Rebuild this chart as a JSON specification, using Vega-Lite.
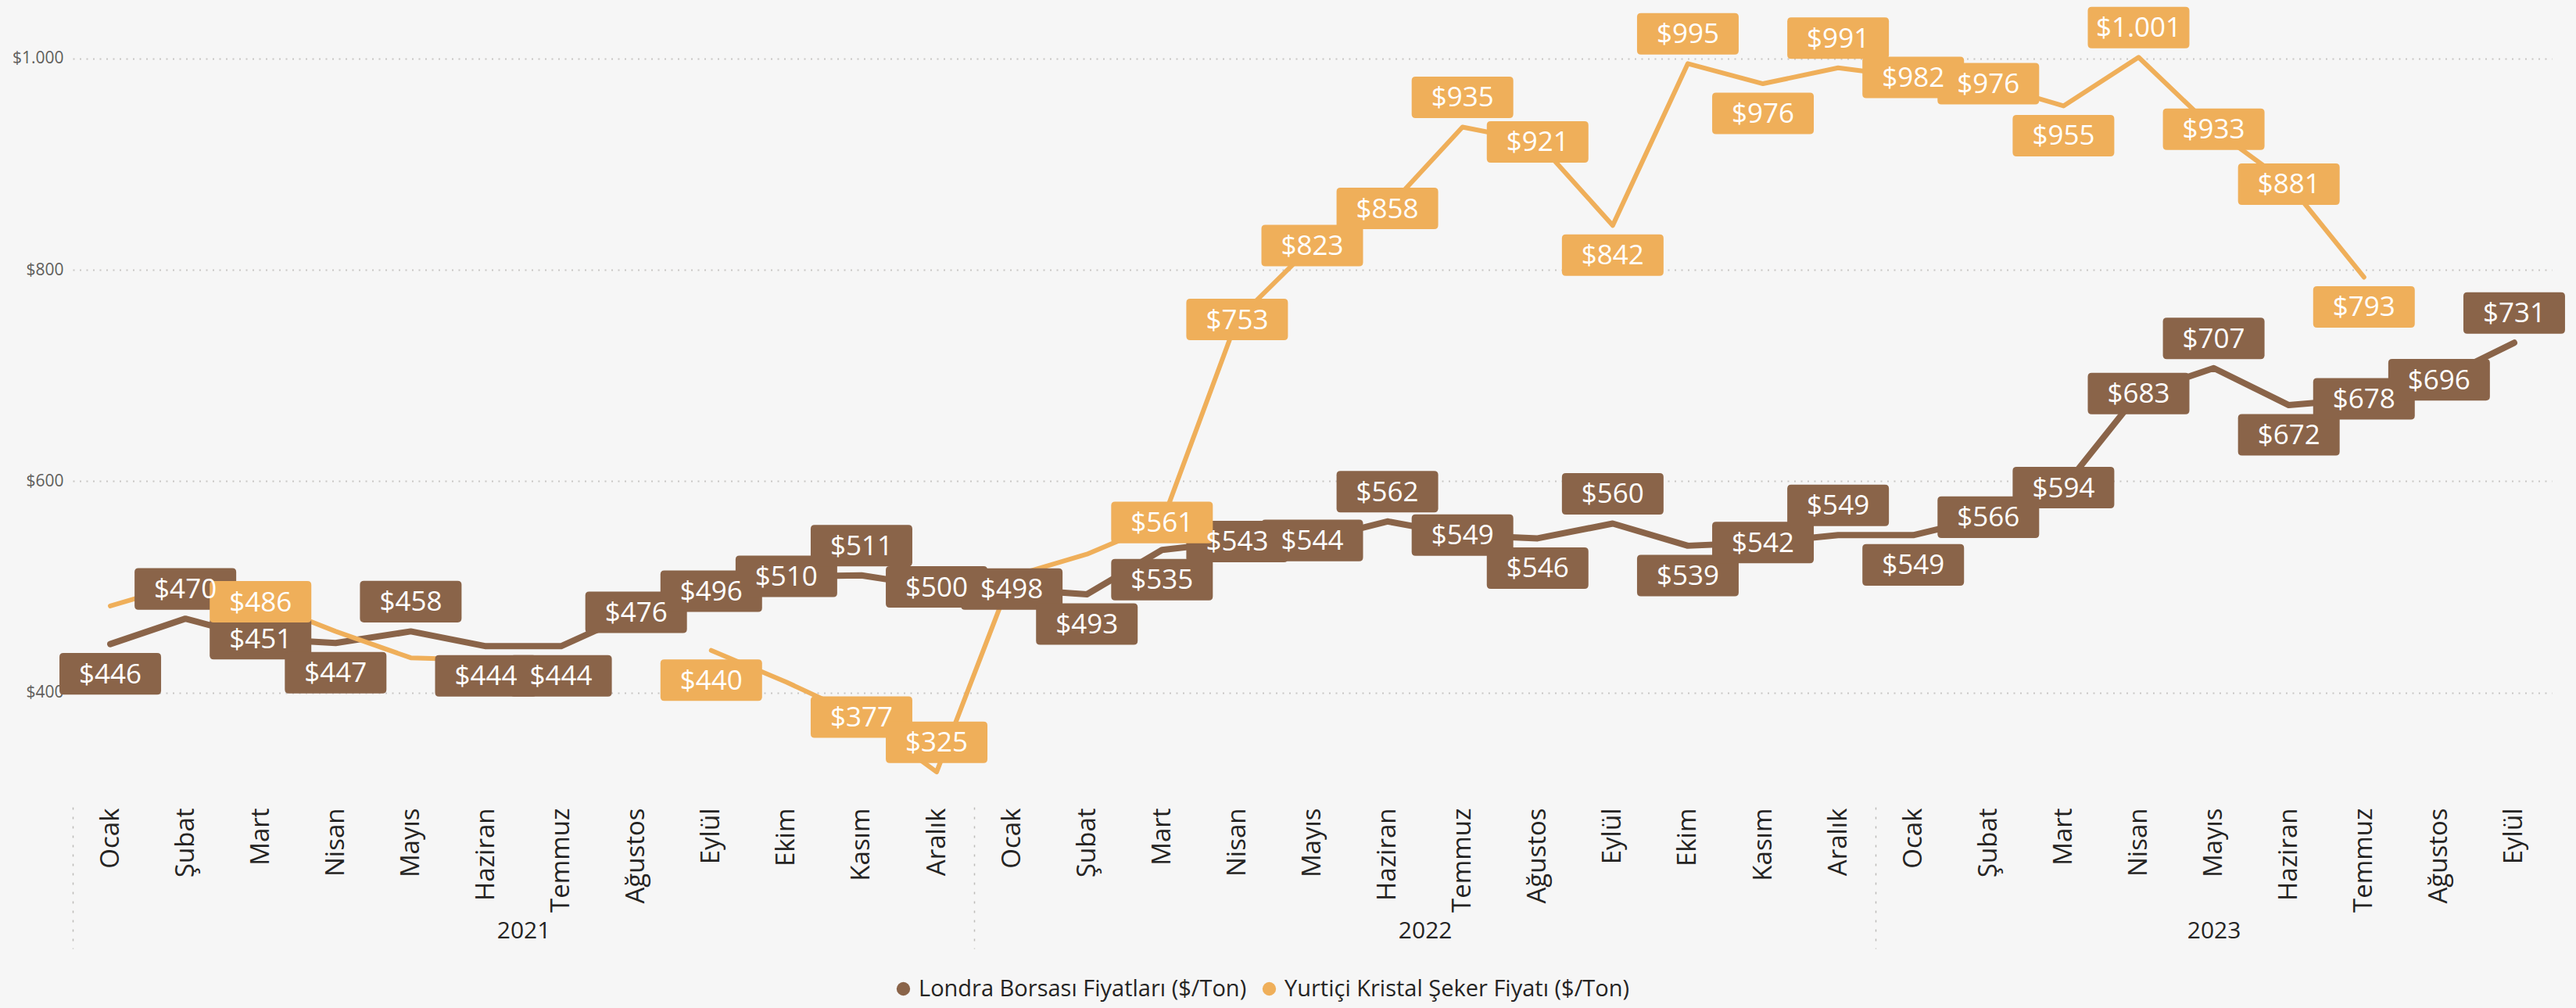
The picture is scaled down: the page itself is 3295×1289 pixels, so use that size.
{
  "$schema": "https://vega.github.io/schema/vega-lite/v6.json",
  "autosize": {"type": "none"},
  "width": 3171,
  "height": 1014,
  "padding": {"left": 93, "top": 7, "right": 31, "bottom": 268},
  "background": "#F6F6F6",
  "config": {
    "view": {"stroke": null},
    "font": "Open Sans",
    "locale": {"number": {"decimal": ",", "thousands": ".", "grouping": [3], "currency": ["$", ""]}},
    "mark": {"invalid": "break-paths-filter-domains"}
  },
  "data": {"values": [
    {"tarih": "2021-01", "seri": "Londra Borsası Fiyatları ($/Ton)", "deger": 446, "etiket": "$446"},
    {"tarih": "2021-02", "seri": "Londra Borsası Fiyatları ($/Ton)", "deger": 470, "etiket": "$470"},
    {"tarih": "2021-03", "seri": "Londra Borsası Fiyatları ($/Ton)", "deger": 451, "etiket": "$451"},
    {"tarih": "2021-04", "seri": "Londra Borsası Fiyatları ($/Ton)", "deger": 447, "etiket": "$447"},
    {"tarih": "2021-05", "seri": "Londra Borsası Fiyatları ($/Ton)", "deger": 458, "etiket": "$458"},
    {"tarih": "2021-06", "seri": "Londra Borsası Fiyatları ($/Ton)", "deger": 444, "etiket": "$444"},
    {"tarih": "2021-07", "seri": "Londra Borsası Fiyatları ($/Ton)", "deger": 444, "etiket": "$444"},
    {"tarih": "2021-08", "seri": "Londra Borsası Fiyatları ($/Ton)", "deger": 476, "etiket": "$476"},
    {"tarih": "2021-09", "seri": "Londra Borsası Fiyatları ($/Ton)", "deger": 496, "etiket": "$496"},
    {"tarih": "2021-10", "seri": "Londra Borsası Fiyatları ($/Ton)", "deger": 510, "etiket": "$510"},
    {"tarih": "2021-11", "seri": "Londra Borsası Fiyatları ($/Ton)", "deger": 511, "etiket": "$511"},
    {"tarih": "2021-12", "seri": "Londra Borsası Fiyatları ($/Ton)", "deger": 500, "etiket": "$500"},
    {"tarih": "2022-01", "seri": "Londra Borsası Fiyatları ($/Ton)", "deger": 498, "etiket": "$498"},
    {"tarih": "2022-02", "seri": "Londra Borsası Fiyatları ($/Ton)", "deger": 493, "etiket": "$493"},
    {"tarih": "2022-03", "seri": "Londra Borsası Fiyatları ($/Ton)", "deger": 535, "etiket": "$535"},
    {"tarih": "2022-04", "seri": "Londra Borsası Fiyatları ($/Ton)", "deger": 543, "etiket": "$543"},
    {"tarih": "2022-05", "seri": "Londra Borsası Fiyatları ($/Ton)", "deger": 544, "etiket": "$544"},
    {"tarih": "2022-06", "seri": "Londra Borsası Fiyatları ($/Ton)", "deger": 562, "etiket": "$562"},
    {"tarih": "2022-07", "seri": "Londra Borsası Fiyatları ($/Ton)", "deger": 549, "etiket": "$549"},
    {"tarih": "2022-08", "seri": "Londra Borsası Fiyatları ($/Ton)", "deger": 546, "etiket": "$546"},
    {"tarih": "2022-09", "seri": "Londra Borsası Fiyatları ($/Ton)", "deger": 560, "etiket": "$560"},
    {"tarih": "2022-10", "seri": "Londra Borsası Fiyatları ($/Ton)", "deger": 539, "etiket": "$539"},
    {"tarih": "2022-11", "seri": "Londra Borsası Fiyatları ($/Ton)", "deger": 542, "etiket": "$542"},
    {"tarih": "2022-12", "seri": "Londra Borsası Fiyatları ($/Ton)", "deger": 549, "etiket": "$549"},
    {"tarih": "2023-01", "seri": "Londra Borsası Fiyatları ($/Ton)", "deger": 549, "etiket": "$549"},
    {"tarih": "2023-02", "seri": "Londra Borsası Fiyatları ($/Ton)", "deger": 566, "etiket": "$566"},
    {"tarih": "2023-03", "seri": "Londra Borsası Fiyatları ($/Ton)", "deger": 594, "etiket": "$594"},
    {"tarih": "2023-04", "seri": "Londra Borsası Fiyatları ($/Ton)", "deger": 683, "etiket": "$683"},
    {"tarih": "2023-05", "seri": "Londra Borsası Fiyatları ($/Ton)", "deger": 707, "etiket": "$707"},
    {"tarih": "2023-06", "seri": "Londra Borsası Fiyatları ($/Ton)", "deger": 672, "etiket": "$672"},
    {"tarih": "2023-07", "seri": "Londra Borsası Fiyatları ($/Ton)", "deger": 678, "etiket": "$678"},
    {"tarih": "2023-08", "seri": "Londra Borsası Fiyatları ($/Ton)", "deger": 696, "etiket": "$696"},
    {"tarih": "2023-09", "seri": "Londra Borsası Fiyatları ($/Ton)", "deger": 731, "etiket": "$731"},
    {"tarih": "2021-01", "seri": "Yurtiçi Kristal Şeker Fiyatı ($/Ton)", "deger": 482, "etiket": null},
    {"tarih": "2021-02", "seri": "Yurtiçi Kristal Şeker Fiyatı ($/Ton)", "deger": 503, "etiket": null},
    {"tarih": "2021-03", "seri": "Yurtiçi Kristal Şeker Fiyatı ($/Ton)", "deger": 486, "etiket": "$486"},
    {"tarih": "2021-04", "seri": "Yurtiçi Kristal Şeker Fiyatı ($/Ton)", "deger": 458, "etiket": null},
    {"tarih": "2021-05", "seri": "Yurtiçi Kristal Şeker Fiyatı ($/Ton)", "deger": 433, "etiket": null},
    {"tarih": "2021-06", "seri": "Yurtiçi Kristal Şeker Fiyatı ($/Ton)", "deger": 431, "etiket": null},
    {"tarih": "2021-07", "seri": "Yurtiçi Kristal Şeker Fiyatı ($/Ton)", "deger": null, "etiket": null},
    {"tarih": "2021-08", "seri": "Yurtiçi Kristal Şeker Fiyatı ($/Ton)", "deger": null, "etiket": null},
    {"tarih": "2021-09", "seri": "Yurtiçi Kristal Şeker Fiyatı ($/Ton)", "deger": 440, "etiket": "$440"},
    {"tarih": "2021-10", "seri": "Yurtiçi Kristal Şeker Fiyatı ($/Ton)", "deger": 410, "etiket": null},
    {"tarih": "2021-11", "seri": "Yurtiçi Kristal Şeker Fiyatı ($/Ton)", "deger": 377, "etiket": "$377"},
    {"tarih": "2021-12", "seri": "Yurtiçi Kristal Şeker Fiyatı ($/Ton)", "deger": 325, "etiket": "$325"},
    {"tarih": "2022-01", "seri": "Yurtiçi Kristal Şeker Fiyatı ($/Ton)", "deger": 510, "etiket": null},
    {"tarih": "2022-02", "seri": "Yurtiçi Kristal Şeker Fiyatı ($/Ton)", "deger": 531, "etiket": null},
    {"tarih": "2022-03", "seri": "Yurtiçi Kristal Şeker Fiyatı ($/Ton)", "deger": 561, "etiket": "$561"},
    {"tarih": "2022-04", "seri": "Yurtiçi Kristal Şeker Fiyatı ($/Ton)", "deger": 753, "etiket": "$753"},
    {"tarih": "2022-05", "seri": "Yurtiçi Kristal Şeker Fiyatı ($/Ton)", "deger": 823, "etiket": "$823"},
    {"tarih": "2022-06", "seri": "Yurtiçi Kristal Şeker Fiyatı ($/Ton)", "deger": 858, "etiket": "$858"},
    {"tarih": "2022-07", "seri": "Yurtiçi Kristal Şeker Fiyatı ($/Ton)", "deger": 935, "etiket": "$935"},
    {"tarih": "2022-08", "seri": "Yurtiçi Kristal Şeker Fiyatı ($/Ton)", "deger": 921, "etiket": "$921"},
    {"tarih": "2022-09", "seri": "Yurtiçi Kristal Şeker Fiyatı ($/Ton)", "deger": 842, "etiket": "$842"},
    {"tarih": "2022-10", "seri": "Yurtiçi Kristal Şeker Fiyatı ($/Ton)", "deger": 995, "etiket": "$995"},
    {"tarih": "2022-11", "seri": "Yurtiçi Kristal Şeker Fiyatı ($/Ton)", "deger": 976, "etiket": "$976"},
    {"tarih": "2022-12", "seri": "Yurtiçi Kristal Şeker Fiyatı ($/Ton)", "deger": 991, "etiket": "$991"},
    {"tarih": "2023-01", "seri": "Yurtiçi Kristal Şeker Fiyatı ($/Ton)", "deger": 982, "etiket": "$982"},
    {"tarih": "2023-02", "seri": "Yurtiçi Kristal Şeker Fiyatı ($/Ton)", "deger": 976, "etiket": "$976"},
    {"tarih": "2023-03", "seri": "Yurtiçi Kristal Şeker Fiyatı ($/Ton)", "deger": 955, "etiket": "$955"},
    {"tarih": "2023-04", "seri": "Yurtiçi Kristal Şeker Fiyatı ($/Ton)", "deger": 1001, "etiket": "$1.001"},
    {"tarih": "2023-05", "seri": "Yurtiçi Kristal Şeker Fiyatı ($/Ton)", "deger": 933, "etiket": "$933"},
    {"tarih": "2023-06", "seri": "Yurtiçi Kristal Şeker Fiyatı ($/Ton)", "deger": 881, "etiket": "$881"},
    {"tarih": "2023-07", "seri": "Yurtiçi Kristal Şeker Fiyatı ($/Ton)", "deger": 793, "etiket": "$793"}
  ]},
  "transform": [
    {"calculate": "(toNumber(substring(datum.tarih,0,4))-2021)*12 + toNumber(substring(datum.tarih,5,7)) - 1", "as": "idx"},
    {"window": [{"op": "lag", "field": "deger", "as": "prev"}, {"op": "lead", "field": "deger", "as": "next"}], "groupby": ["seri"], "sort": [{"field": "idx"}]},
    {"joinaggregate": [{"op": "valid", "field": "etiket", "as": "nlab"}, {"op": "min", "field": "deger", "as": "mn"}, {"op": "max", "field": "deger", "as": "mx"}], "groupby": ["idx"]},
    {"calculate": "datum.prev == null ? 'alt' : datum.next == null ? (datum.deger >= datum.prev ? 'ust' : 'alt') : (datum.deger >= datum.prev && datum.deger >= datum.next) ? 'ust' : (datum.deger <= datum.prev && datum.deger <= datum.next) ? (datum.deger < 345 ? 'ust' : 'alt') : 'orta'", "as": "pos0"},
    {"calculate": "(datum.pos0 == 'orta' && datum.nlab == 2 && (datum.mx - datum.mn) < 30 && datum.deger == datum.mn) ? 'alt' : datum.pos0", "as": "pos"}
  ],
  "layer": [
    {
      "mark": {"type": "line", "strokeCap": "round", "strokeJoin": "round"},
      "encoding": {
        "x": {"field": "idx", "type": "quantitative",
              "scale": {"domain": [-0.5, 32.5], "nice": false, "zero": false},
              "axis": {"orient": "bottom", "values": [0,1,2,3,4,5,6,7,8,9,10,11,12,13,14,15,16,17,18,19,20,21,22,23,24,25,26,27,28,29,30,31,32],
                       "labelExpr": "['Ocak','Şubat','Mart','Nisan','Mayıs','Haziran','Temmuz','Ağustos','Eylül','Ekim','Kasım','Aralık'][datum.value % 12]",
                       "labelAngle": -90, "labelAlign": "right", "labelBaseline": "middle",
                       "labelFontSize": 33, "labelColor": "#252423", "labelPadding": 12,
                       "labelOverlap": false, "labelFlush": false, "labelBound": false,
                       "ticks": false, "tickSize": 0, "domain": false, "grid": false, "title": null}},
        "y": {"field": "deger", "type": "quantitative",
              "scale": {"domain": [300, 1050], "nice": false, "zero": false},
              "axis": {"values": [400, 600, 800, 1000], "format": "$,.0f", "labelFontSize": 21, "labelColor": "#605E5C",
                       "labelPadding": 12, "ticks": false, "domain": false, "grid": true, "gridDash": [2, 6.5],
                       "gridColor": "#C8C6C4", "gridWidth": 2, "title": null}},
        "color": {"field": "seri", "type": "nominal",
                  "scale": {"domain": ["Londra Borsası Fiyatları ($/Ton)", "Yurtiçi Kristal Şeker Fiyatı ($/Ton)"], "range": ["#8A6449", "#EFAF5A"]},
                  "legend": {"orient": "none", "legendX": 1048, "legendY": 1243, "direction": "horizontal", "title": null,
                             "symbolType": "circle", "symbolSize": 300, "symbolStrokeWidth": 0, "labelFontSize": 29,
                             "labelLimit": 0, "labelColor": "#252423", "labelOffset": 5, "columnPadding": 14, "padding": 0,
                             "gridAlign": "none",
                             "encode": {"symbols": {"update": {"fill": {"scale": "color", "field": "value"}, "opacity": {"value": 1}}}}}},
        "strokeWidth": {"condition": {"test": "datum.seri == 'Londra Borsası Fiyatları ($/Ton)'", "value": 8}, "value": 6}
      }
    },
    {
      "transform": [{"filter": "datum.etiket != null"}],
      "mark": {"type": "point", "filled": true, "opacity": 1, "strokeWidth": 0, "size": 16900},
      "encoding": {
        "x": {"field": "idx", "type": "quantitative",
              "axis": {"orient": "bottom", "values": [5.5, 17.5, 28],
                       "labelExpr": "datum.value < 12 ? '2021' : datum.value < 24 ? '2022' : '2023'",
                       "labelFontSize": 30, "labelColor": "#252423", "labelBaseline": "middle", "labelAngle": 0,
                       "labelOverlap": false, "labelFlush": false, "labelBound": false,
                       "offset": 160, "labelPadding": 9, "ticks": false, "tickSize": 0, "domain": false, "grid": false, "title": null}},
        "y": {"field": "deger", "type": "quantitative", "axis": null},
        "shape": {"field": "pos", "type": "nominal", "legend": null,
                  "scale": {"domain": ["ust", "orta", "alt"],
                            "range": ["M-0.923,-0.993 L0.923,-0.993 Q1,-0.993 1,-0.916 L1,-0.254 Q1,-0.177 0.923,-0.177 L-0.923,-0.177 Q-1,-0.177 -1,-0.254 L-1,-0.916 Q-1,-0.993 -0.923,-0.993 Z",
                                      "M-0.923,-0.408 L0.923,-0.408 Q1,-0.408 1,-0.331 L1,0.331 Q1,0.408 0.923,0.408 L-0.923,0.408 Q-1,0.408 -1,0.331 L-1,-0.331 Q-1,-0.408 -0.923,-0.408 Z",
                                      "M-0.923,0.177 L0.923,0.177 Q1,0.177 1,0.254 L1,0.916 Q1,0.993 0.923,0.993 L-0.923,0.993 Q-1,0.993 -1,0.916 L-1,0.254 Q-1,0.177 -0.923,0.177 Z"]}},
        "fill": {"field": "seri", "type": "nominal",
                 "scale": {"domain": ["Londra Borsası Fiyatları ($/Ton)", "Yurtiçi Kristal Şeker Fiyatı ($/Ton)"], "range": ["#8A6449", "#EFAF5A"]},
                 "legend": null}
      }
    },
    {
      "transform": [{"filter": "datum.etiket != null && datum.pos == 'ust'"}],
      "mark": {"type": "text", "color": "#FFFFFF", "fontSize": 35, "align": "center", "baseline": "middle", "dy": -37},
      "encoding": {
        "x": {"field": "idx", "type": "quantitative",
              "axis": {"orient": "bottom", "values": [-0.5, 11.5, 23.5], "labels": false, "ticks": true, "tickSize": 181,
                       "tickDash": [3, 9], "tickColor": "#BDBBB9", "tickWidth": 1.5, "offset": 11, "domain": false, "grid": false, "title": null}},
        "y": {"field": "deger", "type": "quantitative", "axis": null},
        "text": {"field": "etiket", "type": "nominal"}
      }
    },
    {
      "transform": [{"filter": "datum.etiket != null && datum.pos == 'orta'"}],
      "mark": {"type": "text", "color": "#FFFFFF", "fontSize": 35, "align": "center", "baseline": "middle", "dy": 1},
      "encoding": {
        "x": {"field": "idx", "type": "quantitative", "axis": null},
        "y": {"field": "deger", "type": "quantitative", "axis": null},
        "text": {"field": "etiket", "type": "nominal"}
      }
    },
    {
      "transform": [{"filter": "datum.etiket != null && datum.pos == 'alt'"}],
      "mark": {"type": "text", "color": "#FFFFFF", "fontSize": 35, "align": "center", "baseline": "middle", "dy": 39},
      "encoding": {
        "x": {"field": "idx", "type": "quantitative", "axis": null},
        "y": {"field": "deger", "type": "quantitative", "axis": null},
        "text": {"field": "etiket", "type": "nominal"}
      }
    }
  ],
  "resolve": {"axis": {"x": "independent", "y": "independent"}}
}
